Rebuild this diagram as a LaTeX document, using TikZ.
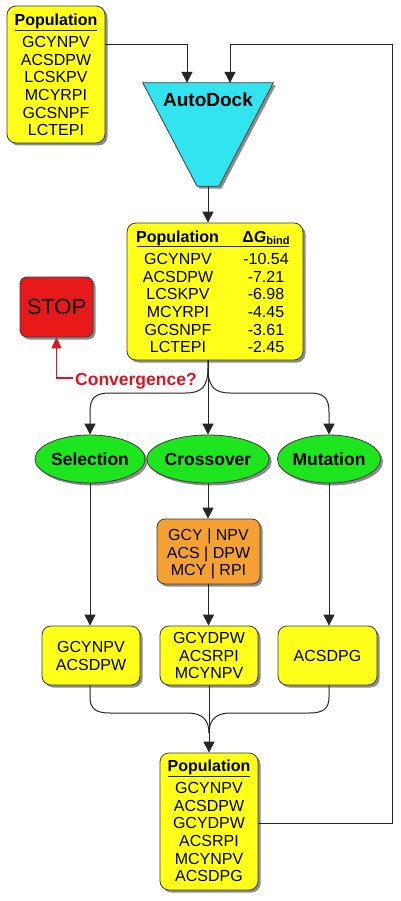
\documentclass[tikz,border=0pt]{standalone}
\usepackage{fontspec}
\setmainfont{Liberation Sans}
\usetikzlibrary{shadows,arrows.meta,shapes.geometric}
\definecolor{byel}{RGB}{255,255,25}
\definecolor{bcyan}{RGB}{50,228,240}
\definecolor{bgreen}{RGB}{30,230,30}
\definecolor{borange}{RGB}{245,160,50}
\definecolor{bred}{RGB}{232,25,25}
\definecolor{cred}{RGB}{222,20,35}
\definecolor{edgegray}{RGB}{60,60,60}
\begin{document}
\begin{tikzpicture}[x=1pt,y=-1pt,
  shadowed/.style={drop shadow={shadow xshift=2.5pt,shadow yshift=-2.5pt,opacity=0.45,fill=black}},
  txt/.style={font=\fontsize{16}{17.6}\selectfont,inner sep=0pt,anchor=base},
  hdr/.style={font=\bfseries\fontsize{16}{17.6}\selectfont,inner sep=0pt,anchor=base},
  boxbase/.style={draw=edgegray,line width=0.8pt,rounded corners=9pt,inner sep=0pt,shadowed},
  ybox/.style={boxbase,fill=byel},
  oval/.style={ellipse,draw=edgegray,line width=0.8pt,fill=bgreen,inner sep=0pt,
    minimum height=48pt,font=\bfseries\fontsize{17.5}{20}\selectfont,shadowed},
  arr/.style={draw=black!85,line width=1pt,-{Triangle[length=11pt,width=11pt]}},
  ln/.style={draw=black!85,line width=1pt},
  ul/.style={draw=black!85,line width=1.3pt},
  redarr/.style={draw=cred,line width=1.3pt,-{Triangle[length=11pt,width=10pt]}}]
\fill[white] (0,0) rectangle (400,901);
\useasboundingbox (0,0) rectangle (400,901);

% top population
\node[ybox,minimum width=98pt,minimum height=137pt] (pop1) at (56,74.5) {};
\node[hdr] (pop1h) at (56,25.5) {Population};
\draw[ul] (15,30.5) -- (97,30.5);
\foreach[count=\i] \t in {GCYNPV,ACSDPW,LCSKPV,MCYRPI,GCSNPF,LCTEPI}
  \node[txt] (pop1r\i) at (56,{42+17.6*(\i-1)+5.7}) {\t};

% AutoDock funnel
\node[inner sep=0pt,minimum width=130pt,minimum height=103pt] (dock) at (208,134.5) {};
\path[draw=edgegray,line width=0.8pt,fill=bcyan,shadowed]
  (dock.north west) -- (dock.north east) -- ([xshift=11pt]dock.south) -- ([xshift=-11pt]dock.south) -- cycle;
\node[font=\bfseries\fontsize{19}{20}\selectfont,inner sep=0pt] (docktxt) at (208,100) {AutoDock};

% scored population
\node[ybox,minimum width=176pt,minimum height=137pt] (pop2) at (215,291.5) {};
\node[hdr] (pop2h) at (177.5,242) {Population};
\node[hdr] (pop2g) at (266,242) {Δ\textit{G}\raisebox{-0.3ex}{\fontsize{11}{12}\selectfont bind}};
\draw[ul] (137,246.5) -- (289,246.5);
\foreach[count=\i] \t/\v in {GCYNPV/-10.54,ACSDPW/-7.21,LCSKPV/-6.98,MCYRPI/-4.45,GCSNPF/-3.61,LCTEPI/-2.45}{
  \node[txt] (pop2r\i) at (178,{259+17.6*(\i-1)+5.7}) {\t};
  \node[txt] (pop2v\i) at (266,{259+17.6*(\i-1)+5.7}) {\v};
}

% STOP and convergence
\node[boxbase,fill=bred,rounded corners=7pt,minimum width=73pt,minimum height=60pt,
  font=\fontsize{22}{24}\selectfont] (stop) at (56.5,307) {STOP};
\node[font=\bfseries\fontsize{17.5}{20}\selectfont,text=cred,inner sep=0pt,anchor=base west] (conv) at (75,385) {Convergence?};
\coordinate (cv) at (73,378);
\draw[redarr] (cv) -| (stop.south);

% operators
\node[oval,minimum width=98pt] (sel) at (90,459) {Selection};
\node[oval,minimum width=100pt] (cx) at (208,459) {Crossover};
\node[oval,minimum width=101pt] (mut) at (329,459) {Mutation};

% crossover box
\node[boxbase,fill=borange,rounded corners=8pt,minimum width=103pt,minimum height=65pt] (ob) at (208.5,551.5) {};
\foreach[count=\i] \t in {GCY | NPV,ACS | DPW,MCY | RPI}
  \node[txt] (obr\i) at (208.5,{535+17.5*(\i-1)+5.7}) {\t};

% offspring boxes
\node[ybox,minimum width=98pt,minimum height=59pt] (lb) at (91,655.5) {};
\node[txt] (lbr1) at (91,{646.7+5.7}) {GCYNPV};
\node[txt] (lbr2) at (91,{664.3+5.7}) {ACSDPW};
\node[ybox,minimum width=98pt,minimum height=59pt] (mb) at (209,655.5) {};
\foreach[count=\i] \t in {GCYDPW,ACSRPI,MCYNPV}
  \node[txt] (mbr\i) at (209,{638+17.6*(\i-1)+5.7}) {\t};
\node[ybox,minimum width=99pt,minimum height=59pt] (rb) at (327.5,655.5) {};
\node[txt] (rbr1) at (327.5,{655.5+5.7}) {ACSDPG};

% new population
\node[ybox,minimum width=98pt,minimum height=137pt] (pop3) at (209,821.5) {};
\node[hdr] (pop3h) at (209,771.5) {Population};
\draw[ul] (168,776.7) -- (250,776.7);
\foreach[count=\i] \t in {GCYNPV,ACSDPW,GCYDPW,ACSRPI,MCYNPV,ACSDPG}
  \node[txt] (pop3r\i) at (209,{788+17.6*(\i-1)+5.7}) {\t};

% connectors
\draw[arr] ([yshift=29.5pt]pop1.east) -| ([xshift=-21pt]dock.north);
\coordinate (fb1) at (392,823);
\coordinate (fb2) at (392,45);
\draw[arr] ([yshift=-1.5pt]pop3.east) -- (fb1) -- (fb2) -| ([xshift=22pt]dock.north);
\draw[arr] (dock.south) -- (pop2.north -| dock.south);

\coordinate (br) at (208,360);
\draw[arr] (br) -- (208,368) .. controls (208,386) and (202,393) .. (186,393) -- (110,393)
  .. controls (95,393) and (90,398) .. (90,412) -- (sel.north);
\draw[arr] (br) -- (cx.north);
\draw[arr] (br) -- (208,368) .. controls (208,386) and (214,393) .. (230,393) -- (309,393)
  .. controls (324,393) and (329,398) .. (329,412) -- (mut.north);

\draw[arr] (sel.south) -- (sel.south |- lb.north);
\draw[arr] (cx.south) -- (cx.south |- ob.north);
\draw[arr] (ob.south) -- (ob.south |- mb.north);
\draw[arr] (mut.south) -- (mut.south |- rb.north);

\coordinate (mg) at (209,733);
\draw[ln] (lb.south -| sel.south) -- (90,697) .. controls (90,709) and (96,713) .. (110,713) -- (188,713)
  .. controls (202,713) and (209,720) .. (mg);
\draw[ln] (rb.south -| mut.south) -- (329,697) .. controls (329,709) and (323,713) .. (309,713) -- (230,713)
  .. controls (216,713) and (209,720) .. (mg);
\draw[arr] (mb.south) -- (pop3.north);
\end{tikzpicture}
\end{document}
